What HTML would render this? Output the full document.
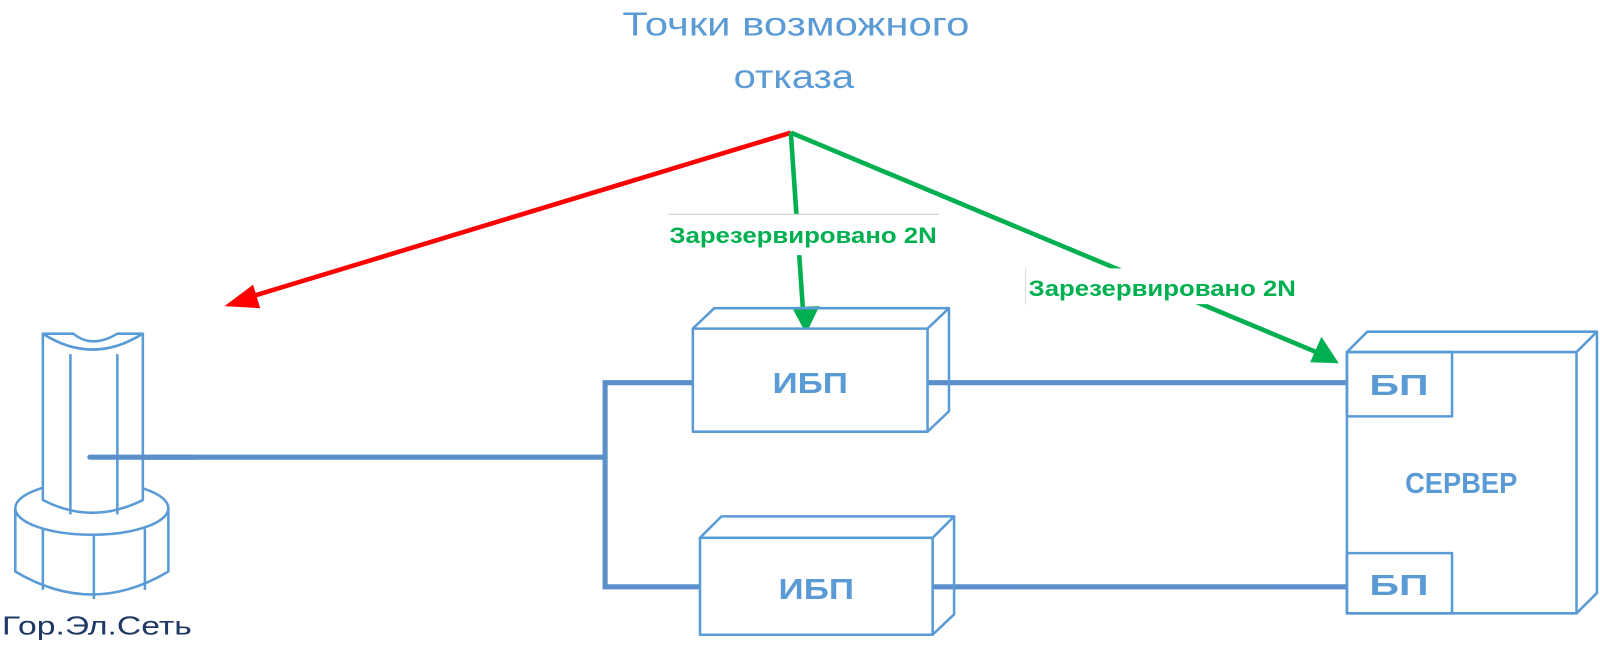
<!DOCTYPE html>
<html><head><meta charset="utf-8"><style>
html,body{margin:0;padding:0;background:#fff;}
svg{display:block;}
text{font-family:"Liberation Sans","DejaVu Sans",sans-serif;}
</style></head><body>
<svg width="1600" height="647" viewBox="0 0 1568 634" preserveAspectRatio="none" xmlns="http://www.w3.org/2000/svg">
<!-- title -->
<text x="780" y="35" font-size="33" fill="#5b9bd5" text-anchor="middle" textLength="340" lengthAdjust="spacingAndGlyphs">Точки возможного</text>
<text x="778" y="86" font-size="33" fill="#5b9bd5" text-anchor="middle" textLength="118" lengthAdjust="spacingAndGlyphs">отказа</text>

<!-- arrows -->
<line x1="775" y1="130" x2="245" y2="291" stroke="#ff0000" stroke-width="4.5"/>
<polygon points="220,300 248,279 255,302" fill="#ff0000"/>
<line x1="775" y1="130" x2="787" y2="305" stroke="#00b050" stroke-width="4.5"/>
<polygon points="790,327 776,301 803,300" fill="#00b050"/>
<line x1="775" y1="130" x2="1290" y2="345" stroke="#00b050" stroke-width="4.5"/>
<polygon points="1312,356 1284,355 1295,330" fill="#00b050"/>

<!-- labels -->
<rect x="655" y="210" width="265" height="40" fill="#fff"/>
<line x1="655" y1="210" x2="920" y2="210" stroke="#ccc" stroke-width="1"/>
<text x="787" y="238" font-size="22" font-weight="bold" fill="#00b050" text-anchor="middle" textLength="262" lengthAdjust="spacingAndGlyphs">Зарезервировано 2N</text>
<rect x="1005" y="263" width="268" height="35" fill="#fff"/>
<line x1="1005" y1="263" x2="1005" y2="298" stroke="#ddd" stroke-width="1"/>
<text x="1139" y="290" font-size="22" font-weight="bold" fill="#00b050" text-anchor="middle" textLength="262" lengthAdjust="spacingAndGlyphs">Зарезервировано 2N</text>

<!-- thick connectors -->
<g stroke="#5a8fca" stroke-width="5" fill="none" stroke-linecap="round">
<line x1="88" y1="448" x2="593" y2="448"/>
<polyline points="680,375 593,375 593,575 686,575"/>
<line x1="905" y1="375" x2="1320" y2="375"/>
<line x1="913" y1="575" x2="1320" y2="575"/>
</g>

<g stroke="#5b9bd5" stroke-width="2.5" fill="none" stroke-linejoin="round">
<!-- UPS 1 -->
<rect x="679" y="322" width="230" height="101" fill="#fff"/>
<polyline points="679,322 700,302 930,302 909,322"/>
<polyline points="930,302 930,403 909,423"/>
<!-- UPS 2 -->
<rect x="686" y="527" width="228" height="95" fill="#fff"/>
<polyline points="686,527 707,506 935,506 914,527"/>
<polyline points="935,506 935,602 914,622"/>
<!-- Server -->
<rect x="1320" y="345" width="225" height="256" fill="#fff"/>
<polyline points="1320,345 1340,325 1565,325 1545,345"/>
<polyline points="1565,325 1565,581 1545,601"/>
<rect x="1320" y="345" width="103" height="63"/>
<rect x="1320" y="542" width="103" height="59"/>
<!-- tower base -->
<path d="M15,498 L15,560 Q90,605 165,560 L165,498" fill="#fff"/>
<ellipse cx="90" cy="498" rx="75" ry="26" fill="#fff"/>
<line x1="42" y1="518" x2="42" y2="578"/>
<line x1="92" y1="524" x2="92" y2="587"/>
<line x1="142" y1="518" x2="142" y2="578"/>
<!-- column -->
<path d="M42,327 L42,490 Q90,515 140,490 L140,327" fill="#fff"/>
<path d="M42,327 Q90,358 140,327 L115,327 Q90,342 72,327 Z" fill="#fff"/>
<path d="M42,327 Q90,358 140,327"/>
<line x1="69" y1="347" x2="69" y2="504"/>
<line x1="115" y1="347" x2="115" y2="504"/>
</g>
<line x1="88" y1="448" x2="190" y2="448" stroke="#5a8fca" stroke-width="5" stroke-linecap="round"/>

<!-- text -->
<g font-weight="bold" fill="#5b9bd5" font-size="28" text-anchor="middle">
<text x="794" y="385" textLength="74" lengthAdjust="spacingAndGlyphs">ИБП</text>
<text x="800" y="587" textLength="74" lengthAdjust="spacingAndGlyphs">ИБП</text>
<text x="1371" y="387" textLength="58" lengthAdjust="spacingAndGlyphs">БП</text>
<text x="1371" y="583" textLength="58" lengthAdjust="spacingAndGlyphs">БП</text>
<text x="1432" y="483" font-size="28" textLength="110" lengthAdjust="spacingAndGlyphs">СЕРВЕР</text>
</g>
<text x="2" y="622" font-size="25" fill="#1f3864" textLength="186" lengthAdjust="spacingAndGlyphs">Гор.Эл.Сеть</text>
</svg>
</body></html>
